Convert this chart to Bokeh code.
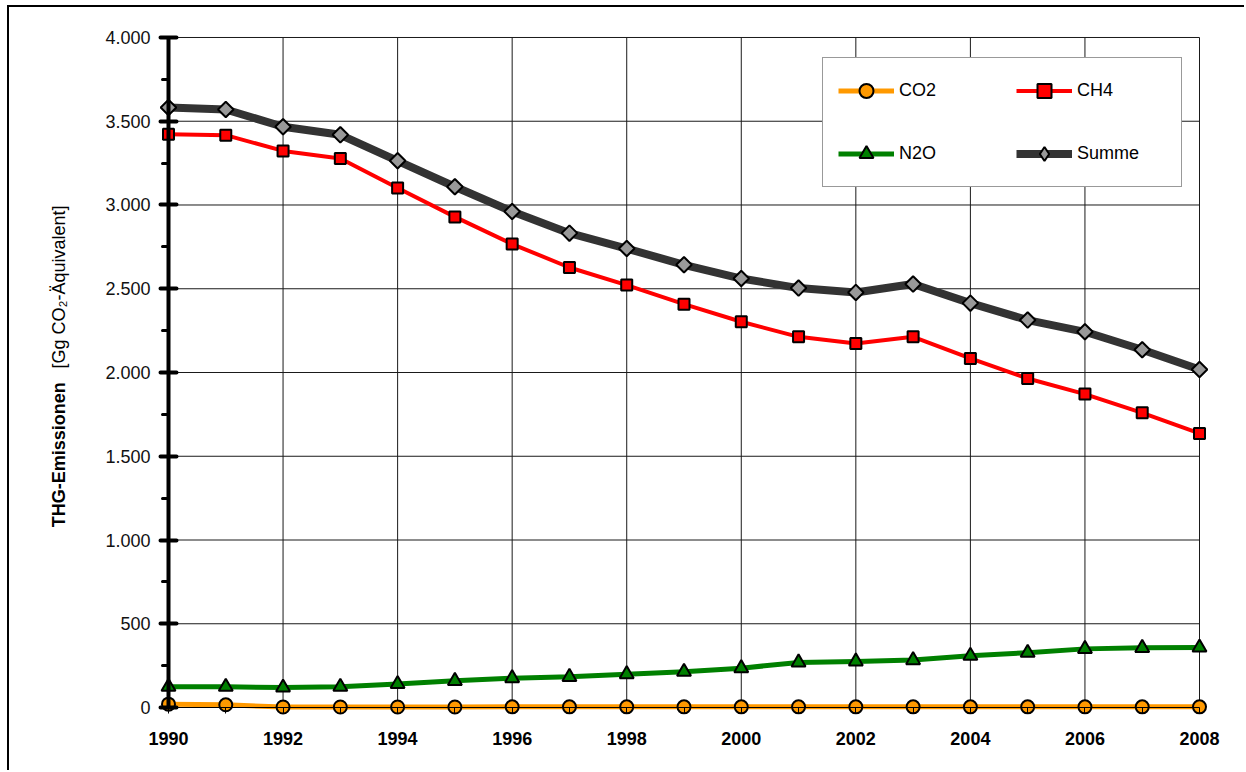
import math
from bokeh.plotting import figure
from bokeh.layouts import row
from bokeh.models import (Range1d, FixedTicker, Legend, LegendItem, LinearAxis,
                          CustomLabelingPolicy)
from bokeh.core.properties import value
from bokeh.embed import file_html
from bokeh.resources import INLINE

# ---------------- data ----------------
years = [1990, 1991, 1992, 1993, 1994, 1995, 1996, 1997, 1998, 1999,
         2000, 2001, 2002, 2003, 2004, 2005, 2006, 2007, 2008]
co2 = [20, 16, 3, 3, 3, 3, 4, 4, 4, 4, 4, 4, 4, 4, 4, 4, 4, 4, 4]
ch4 = [3423, 3417, 3323, 3278, 3101, 2929, 2767, 2627, 2522, 2408,
       2303, 2213, 2173, 2213, 2084, 1964, 1871, 1759, 1636]
n2o = [124, 124, 119, 124, 140, 159, 175, 183, 199, 213,
       235, 269, 275, 283, 309, 327, 350, 356, 358]
summe = [3582, 3570, 3467, 3419, 3264, 3109, 2961, 2832, 2740, 2643,
         2561, 2504, 2478, 2528, 2414, 2313, 2243, 2136, 2018]

series_names = ["CO2", "CH4", "N2O", "Summe"]

x_tick_labels = ["1990", "", "1992", "", "1994", "", "1996", "", "1998", "",
                 "2000", "", "2002", "", "2004", "", "2006", "", "2008"]
y_ticks = [0, 500, 1000, 1500, 2000, 2500, 3000, 3500, 4000]
y_tick_labels = ["0", "500", "1.000", "1.500", "2.000", "2.500", "3.000", "3.500", "4.000"]
y_minor_ticks = [250, 750, 1250, 1750, 2250, 2750, 3250, 3750]
x_grid = [1992, 1994, 1996, 1998, 2000, 2002, 2004, 2006, 2008]

y_title_bold = "THG-Emissionen"
y_title_unit = "[Gg CO\u2082-\u00c4quivalent]"

FONT = "Liberation Sans"
H = 770

no_labels = CustomLabelingPolicy(code="return new Set()")

# ---------------- main figure ----------------
yr = Range1d(-53.73, 4029.85)
p = figure(width=1164, height=H,
           x_range=Range1d(1989.7905, 2008.192), y_range=yr,
           output_backend="svg", toolbar_location=None,
           min_border_left=76, min_border_right=34,
           min_border_top=32, min_border_bottom=54)
p.outline_line_color = None
p.grid.visible = False
p.background_fill_color = "white"
p.border_fill_alpha = 0.0

# grid lines (drawn from the tick lists)
p.segment(x0=x_grid, y0=[y_ticks[0]] * len(x_grid), x1=x_grid, y1=[y_ticks[-1]] * len(x_grid),
          line_color="#1a1a1a", line_width=1)
hy = y_ticks[1:]
p.segment(x0=[years[0]] * len(hy), y0=hy, x1=[years[-1]] * len(hy), y1=hy,
          line_color="#1a1a1a", line_width=1)

# x axis: labels at frame bottom
xa = p.xaxis[0]
xa.ticker = FixedTicker(ticks=years)
xa.major_label_overrides = {y: l for y, l in zip(years, x_tick_labels)}
xa.axis_line_color = None
xa.major_tick_in = 0
xa.major_tick_out = 0
xa.minor_tick_in = 0
xa.minor_tick_out = 0
xa.major_label_text_font = FONT
xa.major_label_text_font_style = "bold"
xa.major_label_text_font_size = "18px"
xa.major_label_text_color = "black"
xa.major_label_standoff = 15

# x axis line at y=0 (no labels)
xl = LinearAxis(fixed_location=0, bounds=(years[0], years[-1]),
                ticker=FixedTicker(ticks=years), major_label_policy=no_labels)
xl.axis_line_color = "black"
xl.axis_line_width = 1
xl.major_tick_in = 0
xl.major_tick_out = 6
xl.major_tick_line_color = "black"
xl.minor_tick_in = 0
xl.minor_tick_out = 0
xl.major_label_text_font_size = "8px"
p.add_layout(xl, "below")

# y axis: labels at frame left
ya = p.yaxis[0]
ya.ticker = FixedTicker(ticks=y_ticks)
ya.major_label_overrides = {t: l for t, l in zip(y_ticks, y_tick_labels)}
ya.axis_line_color = None
ya.major_tick_in = 0
ya.major_tick_out = 0
ya.minor_tick_in = 0
ya.minor_tick_out = 0
ya.major_label_text_font = FONT
ya.major_label_text_font_size = "18px"
ya.major_label_text_color = "#111111"
ya.major_label_standoff = 6

# y axis line at 1990 (no labels)
yl = LinearAxis(fixed_location=years[0], bounds=(y_ticks[0], y_ticks[-1]),
                ticker=FixedTicker(ticks=y_ticks, minor_ticks=y_minor_ticks),
                major_label_policy=no_labels)
yl.axis_line_color = "black"
yl.axis_line_width = 4
yl.major_tick_in = 8
yl.major_tick_out = 8
yl.major_tick_line_width = 4
yl.major_tick_line_cap = "round"
yl.major_tick_line_color = "black"
yl.minor_tick_in = 0
yl.minor_tick_out = 6
yl.minor_tick_line_width = 3
yl.minor_tick_line_cap = "round"
yl.minor_tick_line_color = "black"
yl.major_label_text_font_size = "8px"
p.add_layout(yl, "left")

# ---------------- series ----------------
co2_line = p.line(years, co2, line_color="#FF9900", line_width=5, line_join="round")
ch4_line = p.line(years, ch4, line_color="#FF0000", line_width=4, line_join="round")
n2o_line = p.line(years, n2o, line_color="#008000", line_width=5, line_join="round")
sum_line = p.line(years, summe, line_color="#333333", line_width=8, line_join="round")

co2_pts = p.scatter(years, co2, marker="circle", size=13, fill_color="#FF9900",
                    line_color="black", line_width=2)
ch4_pts = p.scatter(years, ch4, marker="square", size=11, fill_color="#FF0000",
                    line_color="black", line_width=2)
n2o_pts = p.scatter(years, n2o, marker="triangle", size=14, fill_color="#008000",
                    line_color="black", line_width=2)
# diamond key glyph (hidden beneath the rotated squares, used for the legend symbol)
sum_key = p.scatter(years, summe, marker="diamond", size=9,
                    fill_color="#999999", line_color="black", line_width=2)
sum_pts = p.scatter(years, summe, marker="square", angle=math.pi / 4, size=11,
                    fill_color="#999999", line_color="black", line_width=2)

legend = Legend(items=[
    LegendItem(label=series_names[0], renderers=[co2_line, co2_pts]),
    LegendItem(label=series_names[1], renderers=[ch4_line, ch4_pts]),
    LegendItem(label=series_names[2], renderers=[n2o_line, n2o_pts]),
    LegendItem(label=series_names[3], renderers=[sum_line, sum_key]),
], orientation="horizontal", ncols=2, location=(666, 529))
legend.margin = 0
legend.padding = 15
legend.spacing = 28
legend.glyph_width = 56
legend.glyph_height = 35
legend.label_height = 35
legend.label_width = 89
legend.label_standoff = 5
legend.label_text_font = FONT
legend.label_text_font_size = "18px"
legend.label_text_color = "black"
legend.border_line_color = "#333333"
legend.border_line_width = 1
legend.background_fill_color = "white"
legend.background_fill_alpha = 1.0
p.add_layout(legend)

# ---------------- y-axis title strip ----------------
pt = figure(width=80, height=H, x_range=Range1d(0, 80), y_range=yr,
            output_backend="svg", toolbar_location=None,
            x_axis_type=None, y_axis_type=None,
            min_border_left=0, min_border_right=0,
            min_border_top=32, min_border_bottom=54)
pt.outline_line_color = None
pt.grid.visible = False
pt.background_fill_alpha = 0.0
pt.border_fill_alpha = 0.0
pt.text(x=[58], y=[1509], text=[y_title_bold], angle=math.pi / 2,
        text_align="center", text_baseline="middle",
        text_font=value(FONT), text_font_style="bold",
        text_font_size=value("18px"), text_color="black")
pt.text(x=[58], y=[2511], text=[y_title_unit], angle=math.pi / 2,
        text_align="center", text_baseline="middle",
        text_font=value(FONT), text_font_size=value("18px"), text_color="black")

bg = ("linear-gradient(#000,#000) 7px 5px / 2px calc(100% - 5px) no-repeat, "
      "linear-gradient(#000,#000) 7px 5px / calc(100% - 7px) 2px no-repeat, #fff")
layout = row(pt, p, spacing=0, styles={"background": bg})

open("out.html", "w").write(file_html(layout, INLINE))
